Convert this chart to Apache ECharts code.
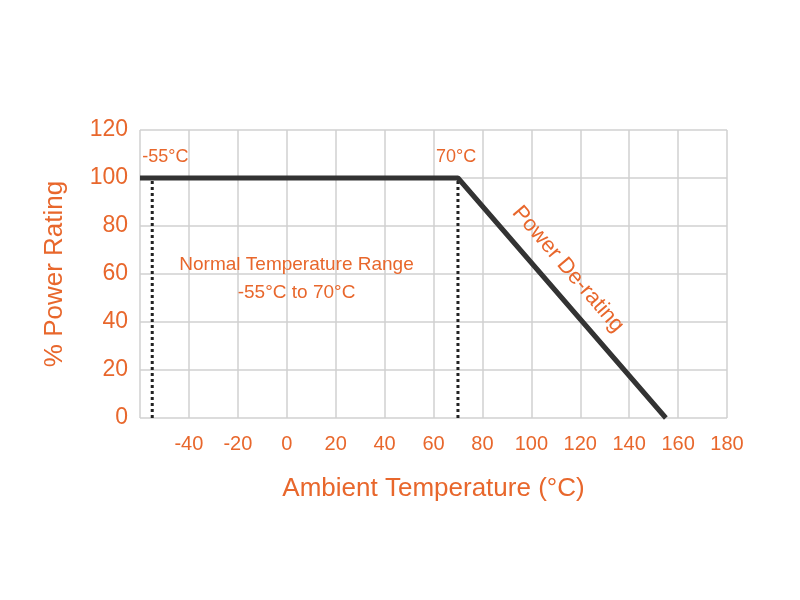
<!DOCTYPE html>
<html><head><meta charset="utf-8">
<script src="https://cdn.jsdelivr.net/npm/echarts@6/dist/echarts.min.js"></script>
<style>html,body{margin:0;background:#fff}#c{width:800px;height:600px}</style>
</head><body><div id="c"></div>
<script>
const curveX = [-60, 70, 155];
const curveY = [100, 100, 0];
const dashX = [-55, 70];
const xTicks = [-40,-20,0,20,40,60,80,100,120,140,160,180];
const yTicks = [0,20,40,60,80,100,120];
const orange = '#e8672c';
const chart = echarts.init(document.getElementById('c'));
const font = 'Helvetica, Arial, "Liberation Sans", sans-serif';
chart.setOption({
  animation:false,
  grid:{left:140,right:73,top:130,bottom:182},
  xAxis:{type:'value',min:-60,max:180,interval:20,
    name:'Ambient Temperature (°C)',nameLocation:'middle',nameGap:58,
    nameTextStyle:{color:orange,fontSize:26,fontFamily:font},
    axisLine:{show:false},axisTick:{show:false},
    splitLine:{lineStyle:{color:'#d0d0d0',width:1.5}},
    axisLabel:{color:orange,fontSize:20,fontFamily:font,margin:16,
      formatter:v=>xTicks.includes(v)?String(v):''}},
  yAxis:{type:'value',min:0,max:120,interval:20,
    name:'% Power Rating',nameLocation:'middle',nameGap:72,
    nameTextStyle:{color:orange,fontSize:26,fontFamily:font},
    axisLine:{show:false},axisTick:{show:false},
    splitLine:{lineStyle:{color:'#d0d0d0',width:1.5}},
    axisLabel:{color:orange,fontSize:23,fontFamily:font,margin:12,
      formatter:v=>yTicks.includes(v)?String(v):''}},
  series:[
    {type:'line',data:curveX.map((x,i)=>[x,curveY[i]]),symbol:'none',
     lineStyle:{color:'#333',width:5},z:3},
    ...dashX.map(x=>({type:'line',data:[[x,0],[x,100]],symbol:'none',
     lineStyle:{color:'#222',width:3,type:[3,3]},z:2}))
  ]
});
const p=(x,y)=>chart.convertToPixel({gridIndex:0},[x,y]);
const t=(pos,text,extra)=>Object.assign({type:'text',x:pos[0],y:pos[1],
  style:Object.assign({text,fill:orange,font:'18px '+font},extra&&extra.style||{})},extra&&extra.el||{});
const a=p(-55,100), b=p(70,100);
const m1=p(4,64), m2=p(4,58);
const d=p(115,62);
chart.setOption({graphic:[
  t([a[0]-10,a[1]-30],'-55°C'),
  t([b[0]-22,b[1]-30],'70°C'),
  t(m1,'Normal Temperature Range',{style:{align:'center',verticalAlign:'middle',font:'19px '+font}}),
  t([m2[0],m2[1]+14],'-55°C to 70°C',{style:{align:'center',verticalAlign:'middle',font:'19px '+font}}),
  t(d,'Power De-rating',{style:{align:'center',verticalAlign:'middle',font:'22px '+font},el:{rotation:-0.86}})
]});
</script></body></html>
